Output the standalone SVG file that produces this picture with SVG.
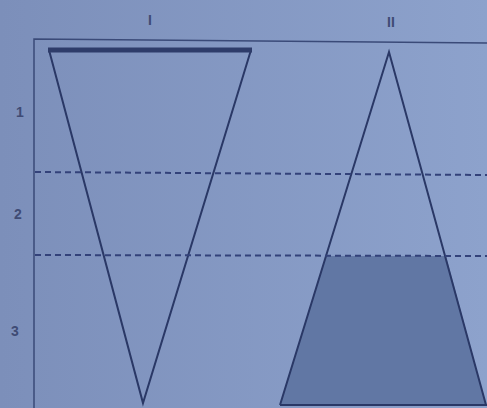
<svg xmlns="http://www.w3.org/2000/svg" width="487" height="408" viewBox="0 0 487 408">
<style>
.ln{stroke:#2a3866;fill:none;stroke-width:2}
.fr{stroke:#3a4a78;fill:none;stroke-width:1.5}
.dash{stroke:#33427a;stroke-width:2;stroke-dasharray:6 4;fill:none}
.lbl{font-family:"Liberation Sans",Arial,sans-serif;font-size:14px;font-weight:bold;fill:#3f4b74;text-anchor:middle}
</style>
<defs>
<linearGradient id="bg" x1="0" y1="0" x2="1" y2="0">
<stop offset="0" stop-color="#7c8fba"/>
<stop offset="1" stop-color="#8da2cc"/>
</linearGradient>
</defs>
<rect width="487" height="408" fill="url(#bg)"/>
<g id="frame">
<path class="fr" d="M34,408 L34,39 L487,43"/>
</g>
<g id="labels">
<text class="lbl" x="150" y="25">I</text>
<text class="lbl" x="391" y="27">II</text>
<text class="lbl" x="20" y="117">1</text>
<text class="lbl" x="18" y="219">2</text>
<text class="lbl" x="15" y="336">3</text>
</g>
<g id="triangle-I">
<path class="ln" d="M49,50 L143,403 L251,50"/>
<line x1="48" y1="50" x2="252" y2="50" stroke="#2e3c6a" stroke-width="5"/>
</g>
<g id="triangle-II">
<polygon points="326,256 446,256 486,405 280,405" fill="#6177a4"/>
<path class="ln" d="M280,405 L389,52 L486,405"/>
<line class="ln" x1="280" y1="405" x2="487" y2="405"/>
</g>
<g id="connectors">
<line class="dash" x1="35" y1="172" x2="487" y2="175"/>
<line class="dash" x1="35" y1="255" x2="487" y2="256"/>
</g>
</svg>
